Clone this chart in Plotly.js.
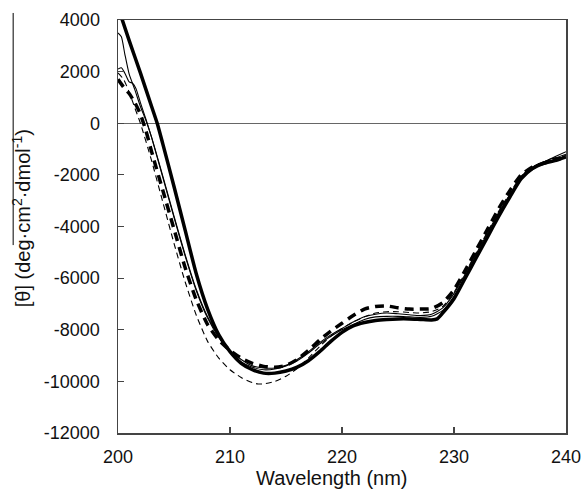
<!DOCTYPE html>
<html>
<head>
<meta charset="utf-8">
<script src="https://cdn.plot.ly/plotly-3.0.1.min.js"></script>
<style>html,body{margin:0;padding:0;background:#fff;}#chart{width:581px;height:493px;}</style>
</head>
<body>
<div id="chart"></div>
<script>
// Wavelength (nm) and mean residue ellipticity values
var wlThickSolid = [200,201,202,203,203.5,204,205,206,207,208,209,210,211,212,213,214,215,216,217,218,219,220,221,222,223,224,225,226,227,228,228.5,229,230,231,232,233,234,235,236,237,238,239,240];
var thickSolid   = [4500,3200,1950,650,0,-800,-2450,-4150,-5850,-7200,-8200,-8850,-9300,-9550,-9680,-9680,-9600,-9450,-9200,-8850,-8450,-8100,-7850,-7720,-7640,-7600,-7580,-7580,-7600,-7620,-7580,-7350,-6800,-6000,-5200,-4400,-3600,-2850,-2150,-1750,-1550,-1450,-1300];

var wlThickDash  = [200,200.5,201,201.5,202,202.5,203,204,205,206,207,208,209,210,211,212,213,214,215,216,217,218,219,220,221,222,223,224,225,226,227,228,229,230,231,232,233,234,235,236,237,238,239,240];
var thickDash    = [1700,1400,1150,800,350,-300,-1100,-2600,-4100,-5600,-6850,-7800,-8400,-8800,-9100,-9300,-9420,-9450,-9380,-9150,-8800,-8400,-8050,-7750,-7450,-7200,-7100,-7080,-7150,-7200,-7200,-7180,-6950,-6450,-5700,-4900,-4100,-3300,-2600,-2000,-1700,-1550,-1400,-1350];

var wlThinA      = [200,200.3,200.6,201,201.5,202,202.5,203,204,205,206,207,208,209,210,211,212,213,214,215,216,217,218,219,220,221,222,223,224,225,226,227,228,229,230,231,232,233,234,235,236,237,238,239,240];
var thinA        = [3500,3350,2700,1900,1300,650,100,-550,-2050,-3600,-5100,-6450,-7500,-8250,-8800,-9150,-9400,-9480,-9480,-9380,-9150,-8850,-8500,-8200,-7950,-7700,-7500,-7400,-7350,-7380,-7420,-7450,-7400,-7150,-6600,-5850,-5050,-4250,-3450,-2750,-2100,-1700,-1500,-1300,-1100];

var wlThinB      = [200,200.3,200.6,201,201.3,201.6,202,202.5,203,204,205,206,207,208,209,210,211,212,213,214,215,216,217,218,219,220,221,222,223,224,225,226,227,228,229,230,231,232,233,234,235,236,236.5,237,237.5,238,238.5,239,240];
var thinB        = [2100,2150,1950,1600,1550,1350,800,150,-550,-2100,-3650,-5150,-6500,-7550,-8300,-8850,-9250,-9450,-9550,-9520,-9400,-9200,-8900,-8550,-8250,-8000,-7800,-7600,-7500,-7480,-7480,-7500,-7520,-7480,-7250,-6700,-5950,-5150,-4350,-3500,-2800,-2100,-1850,-1800,-1650,-1550,-1400,-1350,-1200];

var wlThinDash   = [200,200.5,201,201.5,202,203,204,205,206,207,208,209,210,211,212,212.5,213,214,215,216,217,218,219,220,221,222,223,224,225,226,227,228,229,230,231,232,233,234,235,236,237,238,239,240];
var thinDash     = [1950,1700,1200,600,0,-1450,-3050,-4650,-6150,-7450,-8450,-9100,-9550,-9850,-10050,-10100,-10100,-10000,-9800,-9500,-9100,-8650,-8250,-7950,-7700,-7500,-7350,-7300,-7300,-7330,-7350,-7300,-7100,-6550,-5800,-5000,-4200,-3400,-2700,-2050,-1700,-1500,-1350,-1250];

var xTickVals = [200,210,220,230,240];
var xTickText = ['200','210','220','230','240'];
var yTickVals = [-12000,-10000,-8000,-6000,-4000,-2000,0,2000,4000];
var yTickText = ['-12000','-10000','-8000','-6000','-4000','-2000','0','2000','4000'];
var xTitle = 'Wavelength (nm)';
var yTitle = '[θ] (deg·cm<sup>2</sup>·dmol<sup>-1</sup>)';

var traces = [
  {x: wlThinDash, y: thinDash, mode:'lines', line:{color:'#000', width:1.1, dash:'6px,4px', shape:'spline', smoothing:0.6}},
  {x: wlThinA, y: thinA, mode:'lines', line:{color:'#000', width:1.1, shape:'spline', smoothing:0.6}},
  {x: wlThinB, y: thinB, mode:'lines', line:{color:'#000', width:1.1, shape:'spline', smoothing:0.6}},
  {x: wlThickDash, y: thickDash, mode:'lines', line:{color:'#000', width:3.5, dash:'9px,6px', shape:'spline', smoothing:0.6}},
  {x: wlThickSolid, y: thickSolid, mode:'lines', line:{color:'#000', width:3.5, shape:'spline', smoothing:0.6}}
];

var fam = 'Liberation Sans, Arial, sans-serif';
var tickFont = {family:fam, size:18, color:'#111'};

var layout = {
  width:581, height:493,
  margin:{l:118, r:15, t:20, b:60},
  paper_bgcolor:'#fff', plot_bgcolor:'#fff',
  showlegend:false,
  font: tickFont,
  xaxis:{
    range:[200,240], tickvals:xTickVals, ticktext:xTickText,
    ticks:'inside', ticklen:6, tickwidth:1.2, tickcolor:'#444',
    showline:true, mirror:true, linecolor:'#444', linewidth:1.5,
    showgrid:false, zeroline:false, ticklabelstandoff:7,
    ticklabeloverflow:'allow',
    tickfont:tickFont
  },
  yaxis:{
    range:[-12000,4000], tickvals:yTickVals, ticktext:yTickText,
    ticks:'inside', ticklen:6, tickwidth:1.2, tickcolor:'#444',
    showline:true, mirror:true, linecolor:'#444', linewidth:1.5,
    showgrid:false, zeroline:true, zerolinecolor:'#666', zerolinewidth:1.3,
    ticklabelstandoff:13, ticklabeloverflow:'allow', tickfont:tickFont
  },
  annotations:[
    {text:xTitle, xref:'paper', yref:'paper', x:0.478, y:-0.109, xanchor:'center', yanchor:'middle', showarrow:false, font:{family:fam, size:20, color:'#111'}},
    {text:yTitle, xref:'paper', yref:'paper', x:-0.2165, y:0.52, xanchor:'center', yanchor:'middle', textangle:-90, showarrow:false, font:{family:fam, size:20, color:'#111'}}
  ],
  shapes:[
    {type:'line', xref:'paper', yref:'paper', x0:-0.234, x1:-0.234, y0:1.017, y1:0.455, line:{color:'#000', width:1}}
  ]
};

Plotly.newPlot('chart', traces, layout, {displayModeBar:false, staticPlot:true});
</script>
</body>
</html>
